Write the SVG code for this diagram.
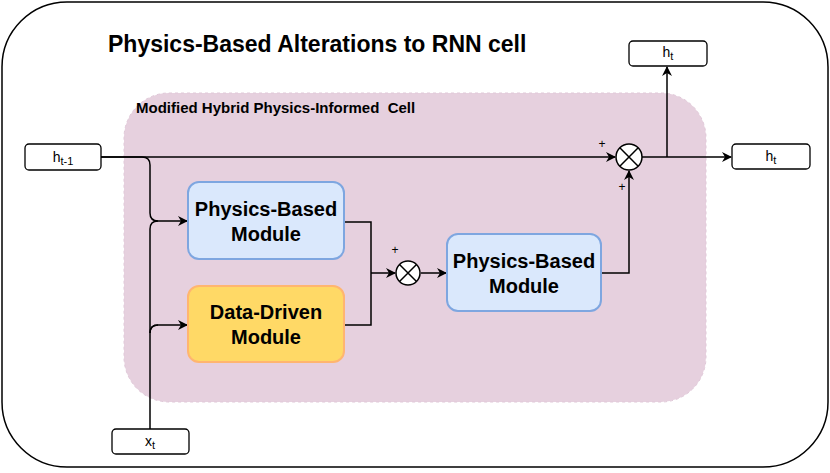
<svg xmlns="http://www.w3.org/2000/svg" width="830" height="473" viewBox="0 0 830 473">
<defs>
<marker id="arr" viewBox="0 0 10 10" refX="9" refY="5" markerWidth="10" markerHeight="10" markerUnits="userSpaceOnUse" orient="auto">
<path d="M0,0 L10,5 L0,10 L3,5 Z" fill="#000"/>
</marker>
<style>
.t{font-family:"Liberation Sans",Arial,sans-serif;fill:#000}
.io{fill:#fff;stroke:#000;stroke-width:1.3}
.mod{font-family:"Liberation Sans",Arial,sans-serif;font-weight:bold;font-size:20px;text-anchor:middle;fill:#000}
.e{fill:none;stroke:#000;stroke-width:1.5}
.op{fill:#fff;stroke:#000;stroke-width:1.5}
.lab{font-family:"Liberation Sans",Arial,sans-serif;font-size:14px;text-anchor:middle;fill:#000}
.pl{font-family:"Liberation Sans",Arial,sans-serif;font-size:12px;text-anchor:middle;fill:#000}
</style>
</defs>
<rect width="830" height="473" fill="#fff"/>
<g id="outer">
<rect x="2" y="2" width="826" height="465" rx="65" ry="65" fill="#fff" stroke="#000" stroke-width="1.5"/>
<text class="t" x="108" y="52" font-size="23" font-weight="bold">Physics-Based Alterations to RNN cell</text>
</g>
<g id="cell">
<rect x="124" y="93" width="582" height="309" rx="45" ry="45" fill="#e6d0de" stroke="#e0c8d8" stroke-dasharray="3 3"/>
<text class="t" x="136" y="113" font-size="15" font-weight="bold" xml:space="preserve">Modified Hybrid Physics-Informed  Cell</text>
</g>
<g id="connectors">
<path class="e" d="M101,157 H615" marker-end="url(#arr)"/>
<path class="e" d="M101,157 H142 Q150,157 150,165 V213 Q150,221 158,221 H187" marker-end="url(#arr)"/>
<path class="e" d="M150,429 V333 Q150,325 158,325 H187" marker-end="url(#arr)"/>
<path class="e" d="M150,333 V229 Q150,221 158,221"/>
<path class="e" d="M150,333 Q150,325 158,325"/>
<path class="e" d="M344,222 H371 V325 H344"/>
<path class="e" d="M371,273 H395" marker-end="url(#arr)"/>
<path class="e" d="M421,273 H446" marker-end="url(#arr)"/>
<path class="e" d="M601,273 H629 V171" marker-end="url(#arr)"/>
<path class="e" d="M642,157 H731" marker-end="url(#arr)"/>
<path class="e" d="M667,157 V67" marker-end="url(#arr)"/>
</g>
<g id="ht1">
<rect class="io" x="25" y="144" width="76" height="26" rx="4"/>
<text class="lab" x="63" y="162">h<tspan font-size="11" dy="3">t-1</tspan></text>
</g>
<g id="xt">
<rect class="io" x="112" y="429" width="77" height="25" rx="4"/>
<text class="lab" x="150" y="446">x<tspan font-size="11" dy="3">t</tspan></text>
</g>
<g id="ht_top">
<rect class="io" x="629" y="41" width="78" height="25" rx="4"/>
<text class="lab" x="668" y="57">h<tspan font-size="11" dy="3">t</tspan></text>
</g>
<g id="ht_right">
<rect class="io" x="732" y="144" width="78" height="25" rx="4"/>
<text class="lab" x="771" y="161">h<tspan font-size="11" dy="3">t</tspan></text>
</g>
<g id="pbm1">
<rect x="188" y="182" width="156" height="77" rx="11" fill="#dae8fc" stroke="#7ea6e0" stroke-width="2"/>
<text class="mod" x="266" y="216">Physics-Based</text>
<text class="mod" x="266" y="241">Module</text>
</g>
<g id="ddm">
<rect x="188" y="286" width="156" height="76" rx="11" fill="#ffd966" stroke="#ffb570" stroke-width="2"/>
<text class="mod" x="266" y="319">Data-Driven</text>
<text class="mod" x="266" y="344">Module</text>
</g>
<g id="pbm2">
<rect x="447" y="234" width="154" height="77" rx="11" fill="#dae8fc" stroke="#7ea6e0" stroke-width="2"/>
<text class="mod" x="524" y="268">Physics-Based</text>
<text class="mod" x="524" y="293">Module</text>
</g>
<g id="mult1">
<circle class="op" cx="408" cy="273" r="12"/>
<path class="e" d="M399.5,264.5 L416.5,281.5 M416.5,264.5 L399.5,281.5"/>
<text class="pl" x="395" y="254">+</text>
</g>
<g id="mult2">
<circle class="op" cx="629" cy="157" r="13"/>
<path class="e" d="M619.8,147.8 L638.2,166.2 M638.2,147.8 L619.8,166.2"/>
<text class="pl" x="602" y="148">+</text>
<text class="pl" x="622" y="191">+</text>
</g>
</svg>
